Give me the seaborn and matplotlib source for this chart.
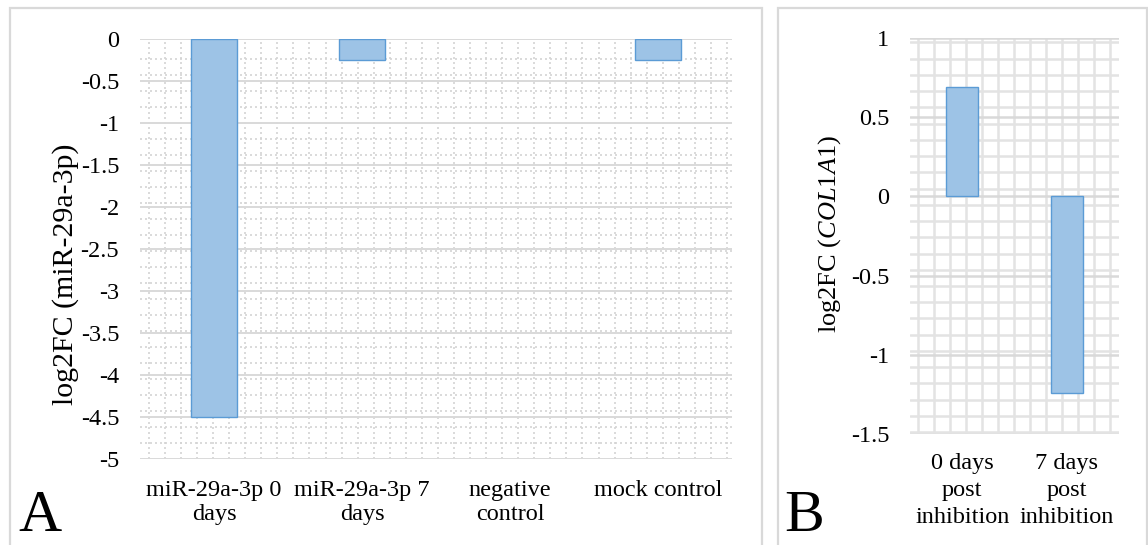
import numpy as np
import matplotlib
matplotlib.use("Agg")
import matplotlib.pyplot as plt
from matplotlib.patches import Rectangle
from matplotlib.ticker import FixedLocator
import seaborn as sns

# Panel A: miR-29a-3p expression
cats_a = ["miR-29a-3p 0\ndays", "miR-29a-3p 7\ndays", "negative\ncontrol", "mock control"]
vals_a = [-4.5, -0.25, 0.0, -0.25]
yticks_a = [0, -0.5, -1, -1.5, -2, -2.5, -3, -3.5, -4, -4.5, -5]

# Panel B: COL1A1 expression
cats_b = ["0 days\npost\ninhibition", "7 days\npost\ninhibition"]
vals_b = [0.69, -1.24]
yticks_b = [1, 0.5, 0, -0.5, -1, -1.5]

sns.set_theme(style="white")
plt.rcParams["font.family"] = ["Liberation Serif", "DejaVu Serif"]
plt.rcParams["text.color"] = "#000000"
plt.rcParams["mathtext.fontset"] = "custom"
plt.rcParams["mathtext.rm"] = "Liberation Serif"
plt.rcParams["mathtext.it"] = "Liberation Serif:italic"

W, H = 1148, 545
fig = plt.figure(figsize=(W / 100, H / 100), dpi=100)
fig.patch.set_facecolor("white")


def px_axes(l, r, t, b):
    return fig.add_axes([l / W, (H - b) / H, (r - l) / W, (b - t) / H])


def frame(l, r, t, b):
    fig.add_artist(Rectangle((l / W, (H - b) / H), (r - l) / W, (b - t) / H,
                             transform=fig.transFigure, fill=False,
                             edgecolor="#d9d9d9", lw=1.6, zorder=0))


frame(10, 762, 8, 560)
frame(778, 1147, 8, 560)

FILL = "#9dc3e6"
EDGE = "#5b9bd5"
FS = 17.5


def hide_empty_bars(axis):
    # a zero-height bar has nothing to show, so drop its outline
    for p in axis.patches:
        if p.get_height() == 0:
            p.set_edgecolor("none")


# ---------- Panel A ----------
ax = px_axes(140, 732, 39, 459)
sns.barplot(x=cats_a, y=vals_a, ax=ax, color=FILL, saturation=1,
            width=0.31, edgecolor=EDGE, linewidth=1.0, zorder=3)
hide_empty_bars(ax)
ax.set_ylim(-5, 0)
ax.set_xlim(-0.5, len(cats_a) - 0.5)
ax.set_yticks(yticks_a)
ax.set_yticklabels([f"{v:g}" for v in yticks_a])
ax.yaxis.set_minor_locator(FixedLocator(np.arange(-0.238, -5.0, -0.1905)))
ax.xaxis.set_minor_locator(FixedLocator(np.arange(-0.44, 3.5, 0.1085)))
ax.grid(which="major", axis="y", color="#d9d9d9", lw=1.4, ls="-", zorder=0)
ax.grid(which="minor", axis="both", color="#d4d4d4", lw=1.2, ls=(0, (1.2, 1.8)), zorder=0)
ax.grid(which="major", axis="x", visible=False)
for s in ax.spines.values():
    s.set_visible(False)
ax.tick_params(axis="both", which="both", length=0)
ax.tick_params(axis="y", pad=15, labelsize=FS, labelcolor="#000000")
ax.tick_params(axis="x", pad=15, labelsize=FS, labelcolor="#000000")
for lab in ax.get_xticklabels():
    lab.set_linespacing(1.22)
ax.set_ylabel("")
fig.text(66 / W, 1 - 274 / H, "log2FC (miR-29a-3p)", rotation=90,
         ha="center", va="center", fontsize=21.5)
fig.text(18 / W, 1 - 544 / H, "A", fontsize=43, ha="left", va="bottom")

# ---------- Panel B ----------
bx = px_axes(910, 1119, 38, 434)
sns.barplot(x=cats_b, y=vals_b, ax=bx, color=FILL, saturation=1,
            width=0.31, edgecolor=EDGE, linewidth=1.0, zorder=3)
hide_empty_bars(bx)
bx.set_ylim(-1.5, 1)
bx.set_xlim(-0.5, len(cats_b) - 0.5)
bx.set_yticks(yticks_b)
bx.set_yticklabels([f"{v:g}" for v in yticks_b])
bx.yaxis.set_minor_locator(FixedLocator(np.arange(0.972, -1.5, -0.1025)))
bx.xaxis.set_minor_locator(FixedLocator(np.arange(-0.423, 1.5, 0.153)))
bx.grid(which="major", axis="y", color="#d9d9d9", lw=1.8, ls="-", zorder=0)
bx.grid(which="minor", axis="both", color="#e3e3e3", lw=1.8, ls="-", zorder=0)
bx.grid(which="major", axis="x", visible=False)
for s in bx.spines.values():
    s.set_visible(False)
bx.tick_params(axis="both", which="both", length=0)
bx.tick_params(axis="y", pad=15, labelsize=FS, labelcolor="#000000")
bx.tick_params(axis="x", pad=14, labelsize=FS, labelcolor="#000000")
for lab in bx.get_xticklabels():
    lab.set_linespacing(1.36)
bx.set_ylabel("")
fig.text(830 / W, 1 - 234 / H, r"log2FC ($\it{COL1A1}$)", rotation=90,
         ha="center", va="center", fontsize=19)
fig.text(784 / W, 1 - 544 / H, "B", fontsize=43, ha="left", va="bottom")

fig.savefig("out.png", dpi=100, facecolor="white")
